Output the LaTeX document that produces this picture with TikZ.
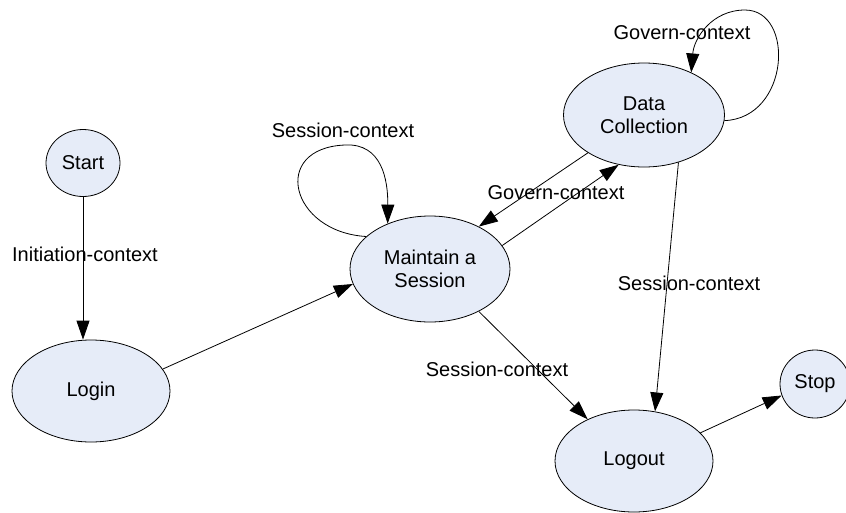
\documentclass[tikz,border=0pt]{standalone}
\usepackage{fontspec}
\setmainfont{Liberation Sans}
\usetikzlibrary{shapes.geometric,arrows.meta}
\definecolor{nodefill}{RGB}{230,236,248}
\begin{document}
\begin{tikzpicture}[x=1pt,y=-1pt,
  state/.style={ellipse,draw,fill=nodefill,line width=0.8pt,inner sep=0pt,align=center,font=\fontsize{20}{23}\selectfont},
  conn/.style={line width=0.8pt,-{Triangle[length=19pt,width=13pt]}},
  lbl/.style={font=\fontsize{20}{23}\selectfont,inner sep=0pt}]
\useasboundingbox (0,0) rectangle (846,512);
\begin{scope}
\clip (0,0) rectangle (846,512);
\node[state,minimum width=74pt,minimum height=67pt] (start) at (83,163) {Start};
\node[state,minimum width=158pt,minimum height=102pt] (login) at (91,391) {Login};
\node[state,minimum width=160pt,minimum height=106pt] (maint) at (430,269) {Maintain a\\Session};
\node[state,minimum width=161pt,minimum height=104pt] (data) at (644,115) {Data\\Collection};
\node[state,minimum width=158pt,minimum height=102pt] (logout) at (634,461) {Logout};
\node[state,minimum width=70pt,minimum height=68pt] (stop) at (815,384) {Stop};

\draw[conn] (start.south) -- (start.south |- login.north);
\draw[conn] (login.17) -- (maint.191);
\draw[conn] (maint.153) .. controls (290,232) and (270,148) .. (345,145) .. controls (382,143) and (388,180) .. (maint.133);
\draw[conn] (data.214) -- (maint.41);
\draw[conn] (maint.18) -- (data.243);
\draw[conn] (data.356) .. controls (790,118) and (795,10) .. (745,10) .. controls (712,10) and (694,38) .. (data.42);
\draw[conn] (data.306) -- (logout.67);
\draw[conn] (maint.319) -- (logout.138);
\draw[conn] (logout.23) -- (stop.199);
\end{scope}

\node[lbl] (l1) at (85,254) {Initiation-context};
\node[lbl] (l2) at (343,130) {Session-context};
\node[lbl] (l3) at (556,193) {Govern-context};
\node[lbl] (l4) at (682,33) {Govern-context};
\node[lbl] (l5) at (689,283) {Session-context};
\node[lbl] (l6) at (497,369) {Session-context};
\end{tikzpicture}
\end{document}
